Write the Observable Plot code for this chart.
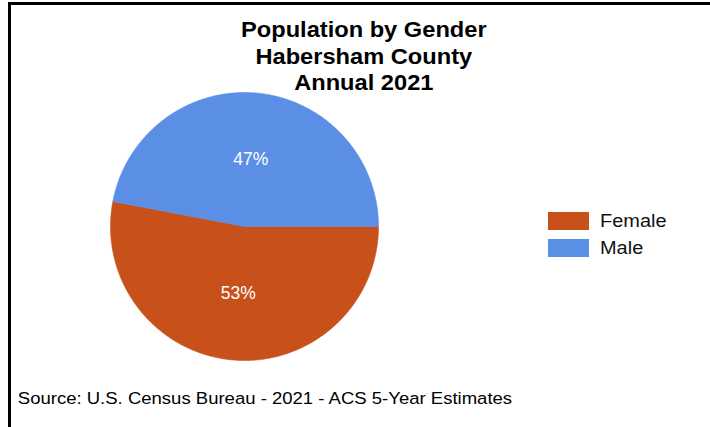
<!DOCTYPE html>
<html>
<head>
<meta charset="utf-8">
<script src="https://cdn.jsdelivr.net/npm/d3@7"></script>
<script src="https://cdn.jsdelivr.net/npm/@observablehq/plot@0.6"></script>
<style>
  body { margin: 0; background: #fff; }
  #chart { position: relative; width: 710px; height: 427px; overflow: hidden; background: #fff;
           font-family: "Liberation Sans", Arial, sans-serif; }
  #chart svg.main { position: absolute; left: 0; top: 0; }
  #border { position: absolute; left: 8px; top: 2px; right: 0; bottom: 0; box-sizing: border-box;
            border-top: 3px solid #000; border-left: 3px solid #000; pointer-events: none; }
  #legend { position: absolute; left: 548px; top: 212px; width: 150px; }
  .lg-swatches { margin: 0 !important; font-family: "Liberation Sans", Arial, sans-serif !important;
                 font-size: 17.5px !important; color: #111; }
  .lg-swatch { padding-bottom: 8.7px; line-height: 18px; }
  .lg-swatch > svg { margin-right: 11px; }
  .lg-swatch-label { transform: scaleX(1.14); transform-origin: 0 50%; overflow: visible !important; }
</style>
</head>
<body>
<div id="chart"><div id="legend"></div><div id="border"></div></div>
<script>
// ---- data ----
const genders = ["Female", "Male"];
const shares = [53, 47];
const sliceColors = ["#C8511B", "#5B8FE6"];
const titleLines = ["Population by Gender", "Habersham County", "Annual 2021"];
const sourceNote = "Source: U.S. Census Bureau - 2021 - ACS 5-Year Estimates";

// ---- build pie geometry from the data ----
const rows = genders.map((g, i) => ({gender: g, value: shares[i]}));
const arcs = d3.pie().sort(null).value(d => d.value)
  .startAngle(Math.PI / 2).endAngle(Math.PI / 2 + 2 * Math.PI)(rows);

const outline = arcs.flatMap(a => {
  const n = Math.max(2, Math.ceil((a.endAngle - a.startAngle) / (Math.PI / 360)));
  const pts = [{gender: a.data.gender, x: 0, y: 0}];
  for (let k = 0; k <= n; k++) {
    const t = a.startAngle + (a.endAngle - a.startAngle) * k / n;
    pts.push({gender: a.data.gender, x: Math.sin(t), y: Math.cos(t)});
  }
  pts.push({gender: a.data.gender, x: 0, y: 0});
  return pts;
});

const sliceLabels = arcs.map(a => {
  const m = (a.startAngle + a.endAngle) / 2;
  return {x: 0.5 * Math.sin(m), y: 0.5 * Math.cos(m), text: `${a.data.value}%`};
});

const font = "Liberation Sans, Arial, sans-serif";

const plot = Plot.plot({
  width: 710,
  height: 427,
  margin: 0,
  style: {fontFamily: font, background: "transparent", overflow: "visible"},
  x: {domain: [-1, 1], range: [110, 378], axis: null},
  y: {domain: [-1, 1], range: [360, 92], axis: null},
  color: {domain: genders, range: sliceColors},
  marks: [
    Plot.line(outline, {x: "x", y: "y", z: "gender", fill: "gender", stroke: "gender", strokeWidth: 0.6}),
    Plot.text(sliceLabels, {x: "x", y: "y", text: "text", fill: "white", fontSize: 17.5, fontFamily: font}),
    ...titleLines.map((t, i) => Plot.text([t], {
      frameAnchor: "top-left", dx: 363.3, dy: 36.5 + i * 26.5,
      textAnchor: "middle", lineAnchor: "bottom",
      fontSize: 21.5, fontWeight: "bold", fill: "#000", fontFamily: font
    })),
    Plot.text([sourceNote], {
      frameAnchor: "top-left", dx: 17.3, dy: 403.5,
      textAnchor: "start", lineAnchor: "bottom",
      fontSize: 17, fill: "#000", fontFamily: font
    })
  ]
});
plot.classList.add("main");

// slight horizontal stretch of the text, as in the reference
const stretch = new Map([...titleLines.map(t => [t, 1.1]), [sourceNote, 1.09]]);
d3.select(plot).selectAll("text").each(function () {
  const s = stretch.get(this.textContent);
  if (s) this.setAttribute("transform", (this.getAttribute("transform") || "") + ` scale(${s},1)`);
});

const chart = document.getElementById("chart");
chart.insertBefore(plot, chart.firstChild);

const legend = plot.legend("color", {className: "lg", columns: 1, swatchWidth: 41, swatchHeight: 18});
document.getElementById("legend").appendChild(legend);
</script>
</body>
</html>
